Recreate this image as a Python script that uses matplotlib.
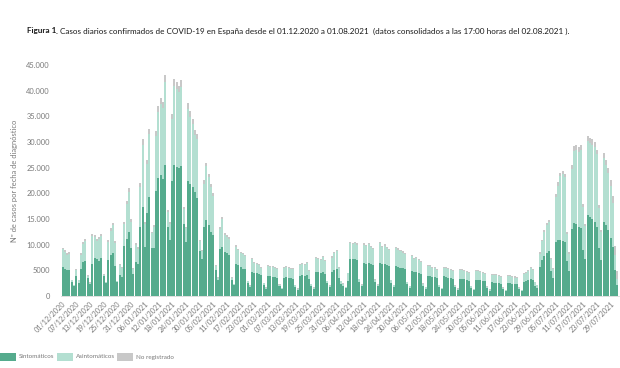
import matplotlib
matplotlib.use("Agg")
import matplotlib.pyplot as plt
from matplotlib.patches import Rectangle
import numpy as np
import pandas as pd

plt.rcParams['font.family'] = ['Lato', 'DejaVu Sans']

# ---------------- data (daily cases, 01/12/2020 .. 01/08/2021) ----------------
fechas = pd.date_range("2020-12-01", "2021-08-01", freq="D")

sintomaticos = [
    # Dec 2020
    5600, 5300, 5000, 5000, 2700, 1900, 3800, 2600, 5300, 6600, 6900, 3500, 2400, 6300, 7400, 7200,
    6900, 7500, 3800, 2500, 7000, 7900, 8400, 5800, 2700, 4000, 3700, 9800, 11200, 12400, 9300,
    # Jan 2021
    4300, 6700, 6300, 13500, 17400, 9500, 16200, 19200, 9300, 9400, 20500, 23000, 23500, 22800, 25600,
    13500, 11000, 22500, 25500, 25200, 25000, 25400, 14000, 10500, 22500, 21800, 21200, 20200, 19000,
    8800, 7200,
    # Feb
    13500, 14800, 13800, 12500, 11800, 5000, 3200, 9200, 9600, 8600, 8300, 8000, 3100, 2100, 6300,
    6000, 5600, 5300, 5300, 2600, 1800, 4700, 4500, 4400, 4200, 4000, 2100, 1400,
    # Mar
    3900, 3800, 3700, 3700, 3500, 1900, 1300, 3600, 3700, 3600, 3500, 3400, 1800, 1200, 3900, 4000,
    3900, 4100, 3300, 2000, 1400, 4600, 4600, 4500, 4700, 4300, 2500, 1700, 4700, 5100, 5300,
    # Apr
    3600, 2300, 2000, 1500, 3000, 7300, 7200, 7300, 7100, 2800, 1900, 6400, 6300, 6400, 6200, 6000,
    2700, 1900, 6500, 6200, 6300, 6100, 5900, 2600, 1800, 5800, 5600, 5500, 5400, 5200,
    # May
    2300, 1600, 4900, 4600, 4700, 4500, 4300, 2000, 1400, 3900, 3900, 3700, 3700, 3500, 1800, 1300,
    3800, 3700, 3600, 3500, 3300, 1700, 1200, 3400, 3400, 3300, 3200, 3000, 1600, 1100, 3200,
    # Jun
    3200, 3100, 3000, 2900, 1500, 1000, 2700, 2600, 2600, 2500, 2400, 1300, 900, 2500, 2500, 2400,
    2400, 2300, 1300, 900, 2800, 3000, 3100, 3300, 3200, 2000, 1600, 5600, 7000, 7800,
    # Jul
    8300, 8700, 4800, 3600, 10500, 10900, 11000, 10800, 10500, 6800, 4800, 13000, 14200, 14000, 13500,
    13200, 9000, 7200, 15800, 15400, 15000, 14500, 13500, 9300, 7000, 14400, 13800, 12800, 11300,
    9500, 5000,
    # Aug
    2100,
]

asintomaticos = [
    # Dec 2020
    3500, 3300, 3000, 3200, 400, 200, 1200, 500, 2700, 3600, 3900, 400, 200, 5400, 4000, 3600,
    4200, 4200, 300, 200, 3500, 4800, 5400, 4600, 200, 2000, 1700, 4200, 6800, 7900, 5200,
    # Jan 2021
    1000, 3300, 2900, 7800, 12100, 4600, 9500, 12300, 2900, 4000, 10700, 12900, 13900, 13900, 16100,
    2800, 3100, 11900, 15400, 15100, 14800, 15300, 3000, 2700, 13900, 13100, 12300, 11100, 11600,
    1900, 1500,
    # Feb
    8400, 10500, 9300, 8800, 7700, 800, 400, 3900, 5400, 3300, 3200, 3200, 500, 200, 3300,
    2900, 2800, 2800, 2400, 300, 200, 2500, 2000, 1800, 1900, 1500, 400, 200,
    # Mar
    1900, 1800, 1900, 1800, 1700, 300, 200, 1800, 1900, 1900, 1800, 1800, 300, 200, 2100, 2300,
    2200, 2300, 1500, 300, 200, 2800, 2700, 2600, 2900, 2500, 400, 300, 2800, 3300, 3500,
    # Apr
    1800, 600, 400, 200, 1400, 3000, 2900, 3000, 2900, 500, 300, 3600, 3400, 3700, 3300, 3100,
    500, 300, 3800, 3300, 3500, 3200, 3000, 500, 300, 3500, 3400, 3200, 3000, 2900,
    # May
    400, 300, 2900, 2600, 2700, 2500, 2400, 400, 300, 1900, 1900, 1800, 1700, 1600, 300, 200,
    1700, 1700, 1600, 1600, 1500, 300, 200, 1600, 1600, 1500, 1500, 1400, 300, 200, 1600,
    # Jun
    1700, 1600, 1500, 1400, 300, 200, 1400, 1400, 1400, 1300, 1300, 300, 200, 1300, 1300, 1300,
    1200, 1200, 300, 200, 1400, 1500, 1700, 2200, 1800, 700, 500, 2600, 3700, 4600,
    # Jul
    5500, 5700, 2500, 1700, 8700, 10600, 12300, 12900, 12600, 5300, 3400, 11700, 14100, 14500, 14600,
    15300, 8400, 6500, 14400, 14400, 14500, 14500, 14100, 7800, 5400, 12400, 11700, 11200, 10100,
    8700, 2900,
    # Aug
    1200,
]

no_registrado = [
    # Dec 2020
    300, 300, 300, 300, 100, 100, 200, 100, 300, 400, 400, 100, 100, 400, 400, 400,
    400, 400, 100, 100, 400, 500, 500, 400, 100, 200, 200, 500, 600, 700, 500,
    # Jan 2021
    200, 300, 300, 700, 1000, 400, 800, 1000, 300, 400, 1000, 1100, 1200, 1100, 1300,
    400, 400, 1100, 1300, 1300, 1200, 1300, 400, 300, 1100, 1100, 1000, 1000, 900, 300, 300,
    # Feb
    600, 700, 600, 600, 500, 200, 100, 400, 400, 300, 300, 300, 100, 100, 300,
    300, 200, 200, 200, 100, 100, 200, 200, 200, 200, 200, 100, 100,
    # Mar
    200, 200, 200, 200, 200, 100, 100, 200, 200, 200, 200, 200, 100, 100, 200, 200,
    200, 200, 200, 100, 100, 200, 200, 200, 200, 200, 100, 100, 200, 200, 200,
    # Apr
    200, 100, 100, 100, 100, 300, 300, 300, 300, 100, 100, 300, 300, 300, 300, 300,
    100, 100, 300, 300, 300, 300, 300, 100, 100, 300, 300, 300, 300, 200,
    # May
    100, 100, 200, 200, 200, 200, 200, 100, 100, 200, 200, 200, 200, 200, 100, 100,
    200, 200, 200, 200, 200, 100, 100, 200, 200, 200, 200, 200, 100, 100, 200,
    # Jun
    200, 200, 200, 200, 100, 100, 200, 200, 200, 200, 200, 100, 100, 200, 200, 200,
    200, 200, 100, 100, 200, 200, 200, 200, 200, 100, 100, 300, 300, 400,
    # Jul
    400, 400, 200, 200, 600, 700, 700, 700, 700, 400, 300, 800, 900, 900, 900,
    900, 600, 400, 1000, 1000, 1000, 1000, 900, 600, 400, 1000, 1000, 1000, 1100, 1300, 1900,
    # Aug
    1500,
]

y_ticks = [0, 5000, 10000, 15000, 20000, 25000, 30000, 35000, 40000, 45000]
y_tick_labels = ["0", "5000", "10.000", "15.000", "20.000", "25.000", "30.000",
                 "35.000", "40.000", "45.000"]
x_label_step = 6

titulo_bold = "Figura 1"
titulo = (". Casos diarios confirmados de COVID-19 en España desde el 01.12.2020 a 01.08.2021  "
          "(datos consolidados a las 17:00 horas del 02.08.2021 ).")
etiquetas_leyenda = ["Sintomáticos", "Asintomáticos", "No registrado"]
colores = ["#55ab8d", "#b3dfd1", "#c8c8c8"]
ylabel = "Nº de casos por fecha de diagnóstico"

# ---------------- figure ----------------
W, H = 620, 368
fig = plt.figure(figsize=(W / 100, H / 100), dpi=100)
ax = fig.add_axes([61 / W, 1 - 296 / H, (619 - 61) / W, (296 - 65) / H])

s = np.array(sintomaticos)
a = np.array(asintomaticos)
g = np.array(no_registrado)
x = np.arange(len(fechas))
ax.bar(x, s, width=0.88, color=colores[0], linewidth=0)
ax.bar(x, a, bottom=s, width=0.88, color=colores[1], linewidth=0)
ax.bar(x, g, bottom=s + a, width=0.88, color=colores[2], linewidth=0)

ax.set_xlim(-0.7, len(fechas) - 0.3)
ax.set_ylim(0, 45000)
ax.set_yticks(y_ticks)
ax.set_yticklabels(y_tick_labels, fontsize=5.4, color="#7a7a7a")
ax.tick_params(axis="y", length=0, pad=8)

xt = x[::x_label_step]
ax.set_xticks(xt)
ax.set_xticklabels([fechas[i].strftime("%d/%m/%Y") for i in xt], rotation=45,
                   ha="right", rotation_mode="anchor", fontsize=5.2, color="#7a7a7a")
ax.tick_params(axis="x", length=0, pad=3)

for sp in ["top", "right", "left"]:
    ax.spines[sp].set_visible(False)
ax.spines["bottom"].set_color("#d9d9d9")
ax.spines["bottom"].set_linewidth(0.6)

ax.set_ylabel(ylabel, fontsize=5.4, color="#7a7a7a", labelpad=6)

# title
t1 = fig.text(27 / W, 1 - 31 / H, titulo_bold, fontsize=5.9, fontweight="bold",
              color="#1a1a1a", va="center", ha="left")
fig.canvas.draw()
bb = t1.get_window_extent()
fig.text(bb.x1 / W, 1 - 31 / H, titulo, fontsize=5.9, color="#1a1a1a", va="center", ha="left")

# legend
lx = [0, 57, 117]
for xi, lab, col in zip(lx, etiquetas_leyenda, colores):
    fig.patches.append(Rectangle((xi / W, 1 - 361 / H), 16 / W, 8 / H, transform=fig.transFigure,
                                 facecolor=col, edgecolor="none"))
    fig.text((xi + 19) / W, 1 - 357 / H, lab, fontsize=4.5, color="#7a7a7a", va="center", ha="left")

fig.savefig("out.png", dpi=100)
